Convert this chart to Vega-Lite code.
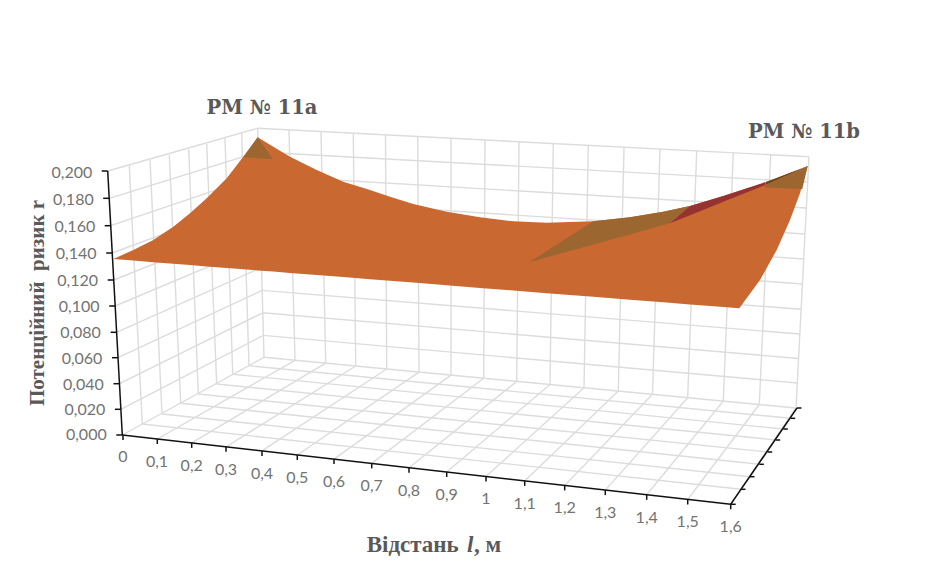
{
"$schema":"https://vega.github.io/schema/vega-lite/v6.json",
"width":949,"height":576,"padding":0,"autosize":{"type":"none"},
"background":"white","view":{"stroke":null},
"config":{"axis":{"disable":true}},
"datasets":{
"grid":[
{"x":122.3,"y":435,"x2":264,"y2":357.3},{"x":157.3,"y":439,"x2":295,"y2":360.3},{"x":191.7,"y":442.9,"x2":325.7,"y2":363.2},{"x":226,"y":446.8,"x2":355.7,"y2":366},{"x":262,"y":450.9,"x2":386.7,"y2":369},{"x":297.3,"y":455,"x2":419,"y2":372.1},{"x":334,"y":459.1,"x2":451,"y2":375.1},{"x":371.7,"y":463.4,"x2":483.7,"y2":378.2},{"x":409,"y":467.7,"x2":516.7,"y2":381.4},{"x":446.7,"y":472,"x2":550,"y2":384.5},{"x":486,"y":476.5,"x2":584,"y2":387.8},{"x":524.7,"y":480.9,"x2":618.3,"y2":391.1},{"x":564.7,"y":485.4,"x2":652.5,"y2":394.3},{"x":605.3,"y":490.1,"x2":687.7,"y2":397.7},{"x":646.7,"y":494.8,"x2":723.3,"y2":401.1},{"x":687.7,"y":499.5,"x2":759.3,"y2":404.5},{"x":730.7,"y":504.3,"x2":796,"y2":408},
{"x":142.3,"y":424,"x2":741,"y2":489.3},{"x":162,"y":414,"x2":750,"y2":476.7},{"x":180.7,"y":403.3,"x2":759.3,"y2":464.3},{"x":198.3,"y":394,"x2":767.7,"y2":452},{"x":216.7,"y":384,"x2":775.7,"y2":440},{"x":232.7,"y":374.3,"x2":783.3,"y2":429},{"x":249,"y":365.7,"x2":790.7,"y2":418.3},{"x":264,"y":357.3,"x2":796,"y2":408},
{"x":264,"y":357.3,"x2":257.7,"y2":128.3},{"x":295,"y":360.3,"x2":289,"y2":129.9},{"x":325.7,"y":363.2,"x2":321,"y2":131.6},{"x":355.7,"y":366,"x2":353.3,"y2":133.2},{"x":386.7,"y":369,"x2":385.5,"y2":134.9},{"x":419,"y":372.1,"x2":417.7,"y2":136.5},{"x":451,"y":375.1,"x2":451,"y2":138.3},{"x":483.7,"y":378.2,"x2":485,"y2":140},{"x":516.7,"y":381.4,"x2":519,"y2":141.8},{"x":550,"y":384.5,"x2":553.3,"y2":143.5},{"x":584,"y":387.8,"x2":588.3,"y2":145.3},{"x":618.3,"y":391.1,"x2":624,"y2":147.2},{"x":652.5,"y":394.3,"x2":660,"y2":149},{"x":687.7,"y":397.7,"x2":696.7,"y2":150.9},{"x":723.3,"y":401.1,"x2":733.3,"y2":152.8},{"x":759.3,"y":404.5,"x2":770.7,"y2":154.7},{"x":796,"y":408,"x2":809,"y2":156.7},
{"x":263.4,"y":335.4,"x2":797.3,"y2":383},{"x":262.7,"y":312.8,"x2":798.6,"y2":358.5},{"x":262.1,"y":290.4,"x2":799.9,"y2":334},{"x":261.5,"y":267.6,"x2":801.2,"y2":309.3},{"x":260.9,"y":244.5,"x2":802.5,"y2":284},{"x":260.2,"y":221.5,"x2":803.8,"y2":259},{"x":259.6,"y":198.5,"x2":805.1,"y2":234},{"x":259,"y":175.5,"x2":806.4,"y2":208},{"x":258.3,"y":152,"x2":807.7,"y2":182},{"x":257.7,"y":128.3,"x2":809,"y2":156.7},
{"x":120.9,"y":409.3,"x2":263.4,"y2":335.4},{"x":119.5,"y":383.7,"x2":262.7,"y2":312.8},{"x":118,"y":357.7,"x2":262.1,"y2":290.4},{"x":116.6,"y":332.3,"x2":261.5,"y2":267.6},{"x":115.2,"y":306,"x2":260.9,"y2":244.5},{"x":113.7,"y":280,"x2":260.2,"y2":221.5},{"x":112.2,"y":253,"x2":259.6,"y2":198.5},{"x":110.7,"y":225.7,"x2":259,"y2":175.5},{"x":109.2,"y":198.3,"x2":258.3,"y2":152},{"x":107.7,"y":171,"x2":257.7,"y2":128.3},
{"x":142.3,"y":424,"x2":129.3,"y2":166},{"x":162,"y":414,"x2":150,"y2":160},{"x":180.7,"y":403.3,"x2":169.3,"y2":155},{"x":198.3,"y":394,"x2":188.7,"y2":149.3},{"x":216.7,"y":384,"x2":206.7,"y2":144},{"x":232.7,"y":374.3,"x2":225,"y2":138.3},{"x":249,"y":365.7,"x2":241.7,"y2":133.3}
],
"axes":[
{"x":122.3,"y":435,"x2":107.7,"y2":171},{"x":122.3,"y":435,"x2":730.7,"y2":504.3},{"x":730.7,"y":504.3,"x2":797,"y2":408},
{"x":122.3,"y":435,"x2":116.3,"y2":435},{"x":120.9,"y":409.3,"x2":114.9,"y2":409.3},{"x":119.5,"y":383.7,"x2":113.5,"y2":383.7},{"x":118,"y":357.7,"x2":112,"y2":357.7},{"x":116.6,"y":332.3,"x2":110.6,"y2":332.3},{"x":115.2,"y":306,"x2":109.2,"y2":306},{"x":113.7,"y":280,"x2":107.7,"y2":280},{"x":112.2,"y":253,"x2":106.2,"y2":253},{"x":110.7,"y":225.7,"x2":104.7,"y2":225.7},{"x":109.2,"y":198.3,"x2":103.2,"y2":198.3},{"x":107.7,"y":171,"x2":101.7,"y2":171},
{"x":123,"y":435,"x2":123,"y2":440},{"x":157.3,"y":439,"x2":157.3,"y2":444},{"x":191.7,"y":442.9,"x2":191.7,"y2":447.9},{"x":226,"y":446.8,"x2":226,"y2":451.8},{"x":262,"y":450.9,"x2":262,"y2":455.9},{"x":297.3,"y":455,"x2":297.3,"y2":460},{"x":334,"y":459.1,"x2":334,"y2":464.1},{"x":371.7,"y":463.4,"x2":371.7,"y2":468.4},{"x":409,"y":467.7,"x2":409,"y2":472.7},{"x":446.7,"y":472,"x2":446.7,"y2":477},{"x":486,"y":476.5,"x2":486,"y2":481.5},{"x":524.7,"y":480.9,"x2":524.7,"y2":485.9},{"x":564.7,"y":485.4,"x2":564.7,"y2":490.4},{"x":605.3,"y":490.1,"x2":605.3,"y2":495.1},{"x":646.7,"y":494.8,"x2":646.7,"y2":499.8},{"x":687.7,"y":499.5,"x2":687.7,"y2":504.5},{"x":730.7,"y":504.3,"x2":730.7,"y2":509.3},
{"x":730.7,"y":504.3,"x2":735.7,"y2":504.3},{"x":741,"y":489.3,"x2":745.5,"y2":489.3},{"x":750,"y":476.7,"x2":754.5,"y2":476.7},{"x":759.3,"y":464.3,"x2":763.8,"y2":464.3},{"x":767.7,"y":452,"x2":772.2,"y2":452},{"x":775.7,"y":440,"x2":780.2,"y2":440},{"x":783.3,"y":429,"x2":787.8,"y2":429},{"x":790.7,"y":418.3,"x2":795.2,"y2":418.3},{"x":797,"y":408,"x2":801.5,"y2":408}
],
"sheet":[
{"part":"surface","x":113.3,"top":259,"low":259},{"part":"surface","x":133.3,"top":250,"low":260.6},{"part":"surface","x":153.3,"top":240,"low":262.2},{"part":"surface","x":173.3,"top":226.7,"low":263.7},{"part":"surface","x":190,"top":213.3,"low":265},{"part":"surface","x":206.7,"top":198.3,"low":266.4},{"part":"surface","x":226.7,"top":178.3,"low":267.9},{"part":"surface","x":243.3,"top":156.7,"low":269.2},{"part":"surface","x":257.7,"top":137.3,"low":270.4},{"part":"surface","x":273.3,"top":146.7,"low":271.6},{"part":"surface","x":290,"top":156.7,"low":272.9},{"part":"surface","x":316.7,"top":170,"low":275},{"part":"surface","x":343.3,"top":181.7,"low":277.1},{"part":"surface","x":370,"top":190,"low":279.2},{"part":"surface","x":390,"top":196.7,"low":280.8},{"part":"surface","x":413.3,"top":204,"low":282.6},{"part":"surface","x":446.7,"top":211.7,"low":285.3},{"part":"surface","x":480,"top":217.3,"low":287.9},{"part":"surface","x":513.3,"top":221.3,"low":290.5},{"part":"surface","x":546.7,"top":222.7,"low":293.2},{"part":"surface","x":593.3,"top":221.3,"low":296.8},{"part":"surface","x":630,"top":217.3,"low":299.7},{"part":"surface","x":663.3,"top":211.7,"low":302.3},{"part":"surface","x":690,"top":206,"low":304.4},{"part":"surface","x":723.3,"top":196,"low":307},{"part":"surface","x":739.3,"top":190.7,"low":308.3},{"part":"surface","x":760,"top":184,"low":280},{"part":"surface","x":766.7,"top":181.7,"low":268},{"part":"surface","x":776.7,"top":178.2,"low":250},{"part":"surface","x":790,"top":173,"low":220},{"part":"surface","x":800,"top":169.4,"low":193.3},{"part":"surface","x":807.7,"top":166,"low":166},
{"part":"peak","x":243.3,"top":157.3,"low":157.3},{"part":"peak","x":257.7,"top":137.3,"low":158.2},{"part":"peak","x":272.7,"top":159,"low":159},
{"part":"valley","x":529,"top":262.3,"low":262.3},{"part":"valley","x":593.3,"top":221.3,"low":244.5},{"part":"valley","x":630,"top":217.3,"low":234.4},{"part":"valley","x":663.3,"top":211.7,"low":225.1},{"part":"valley","x":670,"top":210.2,"low":223.3},{"part":"valley","x":690,"top":206,"low":206},
{"part":"sliver","x":670,"top":223.3,"low":223.3},{"part":"sliver","x":690,"top":206,"low":215.2},{"part":"sliver","x":723.3,"top":196,"low":201.8},{"part":"sliver","x":765,"top":182.3,"low":185},
{"part":"tip","x":765,"top":185,"low":187.6},{"part":"tip","x":802.3,"top":168.4,"low":189},{"part":"tip","x":807.7,"top":166,"low":166},
{"part":"edge","x":766,"top":181.9,"low":184.4},{"part":"edge","x":807.7,"top":166,"low":166}
],
"tickLabels":[
{"t":"0,000","x":106.7,"y":435.3,"a":"v"},{"t":"0,020","x":105.3,"y":410,"a":"v"},{"t":"0,040","x":103.8,"y":384.5,"a":"v"},{"t":"0,060","x":102.4,"y":358.5,"a":"v"},{"t":"0,080","x":100.9,"y":333,"a":"v"},{"t":"0,100","x":99.5,"y":307,"a":"v"},{"t":"0,120","x":98,"y":281,"a":"v"},{"t":"0,140","x":96.6,"y":254,"a":"v"},{"t":"0,160","x":95.2,"y":226.5,"a":"v"},{"t":"0,180","x":93.7,"y":199.5,"a":"v"},{"t":"0,200","x":92.3,"y":172.7,"a":"v"},
{"t":"0","x":123,"y":457,"a":"h"},{"t":"0,1","x":157,"y":461.8,"a":"h"},{"t":"0,2","x":191.7,"y":465.5,"a":"h"},{"t":"0,3","x":226,"y":469.5,"a":"h"},{"t":"0,4","x":262,"y":473.5,"a":"h"},{"t":"0,5","x":297.3,"y":477.5,"a":"h"},{"t":"0,6","x":334,"y":481.8,"a":"h"},{"t":"0,7","x":371.7,"y":486,"a":"h"},{"t":"0,8","x":409,"y":490.5,"a":"h"},{"t":"0,9","x":446.7,"y":495,"a":"h"},{"t":"1","x":486,"y":499,"a":"h"},{"t":"1,1","x":524.7,"y":503.5,"a":"h"},{"t":"1,2","x":564.7,"y":508,"a":"h"},{"t":"1,3","x":605.3,"y":513,"a":"h"},{"t":"1,4","x":646.7,"y":517.5,"a":"h"},{"t":"1,5","x":687.7,"y":522.3,"a":"h"},{"t":"1,6","x":730.7,"y":527.3,"a":"h"}
]
},
"layer":[
{"data":{"name":"grid"},"mark":{"type":"rule","color":"#dcdcdc","strokeWidth":1.4},
 "encoding":{"x":{"field":"x","type":"quantitative","scale":{"domain":[0,949],"nice":false,"zero":false}},"y":{"field":"y","type":"quantitative","scale":{"domain":[576,0],"nice":false,"zero":false}},"x2":{"field":"x2"},"y2":{"field":"y2"}}},
{"data":{"name":"sheet"},"mark":{"type":"area","interpolate":"linear","orient":"vertical"},
 "encoding":{"x":{"field":"x","type":"quantitative"},"y":{"field":"top","type":"quantitative"},"y2":{"field":"low"},
 "color":{"field":"part","type":"nominal","legend":null,"scale":{"domain":["surface","peak","valley","sliver","tip","edge"],"range":["#ca6831","#9c6630","#9c6630","#963232","#9c6630","#6b4317"]}}}},
{"data":{"name":"axes"},"mark":{"type":"rule","color":"#111111","strokeWidth":1.5},
 "encoding":{"x":{"field":"x","type":"quantitative"},"y":{"field":"y","type":"quantitative"},"x2":{"field":"x2"},"y2":{"field":"y2"}}},
{"data":{"name":"tickLabels"},"transform":[{"filter":"datum.a==='v'"}],"mark":{"type":"text","font":"Lato","fontSize":16,"color":"#737373","align":"right","baseline":"middle"},
 "encoding":{"x":{"field":"x","type":"quantitative"},"y":{"field":"y","type":"quantitative"},"text":{"field":"t"}}},
{"data":{"name":"tickLabels"},"transform":[{"filter":"datum.a==='h'"}],"mark":{"type":"text","font":"Lato","fontSize":16,"color":"#737373","align":"center","baseline":"middle"},
 "encoding":{"x":{"field":"x","type":"quantitative"},"y":{"field":"y","type":"quantitative"},"text":{"field":"t"}}},
{"data":{"values":[{"t":"РМ № 11а","x":262,"y":107.5},{"t":"РМ № 11b","x":804,"y":131.5}]},"mark":{"type":"text","font":"DejaVu Serif","fontWeight":"bold","fontSize":19.5,"color":"#595959","align":"center","baseline":"middle"},
 "encoding":{"x":{"field":"x","type":"quantitative"},"y":{"field":"y","type":"quantitative"},"text":{"field":"t"}}},
{"data":{"values":[{"t":"Потенційний\u00a0 ризик r","x":38,"y":303}]},"mark":{"type":"text","font":"Liberation Serif","fontWeight":"bold","fontSize":21,"color":"#595959","align":"center","baseline":"middle","angle":270},
 "encoding":{"x":{"field":"x","type":"quantitative"},"y":{"field":"y","type":"quantitative"},"text":{"field":"t"}}},
{"data":{"values":[{"t":"Відстань","x":366.7,"y":545},{"t":", м","x":474,"y":545}]},"mark":{"type":"text","font":"Liberation Serif","fontWeight":"bold","fontSize":23,"color":"#595959","align":"left","baseline":"middle"},
 "encoding":{"x":{"field":"x","type":"quantitative"},"y":{"field":"y","type":"quantitative"},"text":{"field":"t"}}},
{"data":{"values":[{"t":"l","x":467,"y":545}]},"mark":{"type":"text","font":"Liberation Serif","fontWeight":"bold","fontStyle":"italic","fontSize":23,"color":"#595959","align":"left","baseline":"middle"},
 "encoding":{"x":{"field":"x","type":"quantitative"},"y":{"field":"y","type":"quantitative"},"text":{"field":"t"}}}
]
}
